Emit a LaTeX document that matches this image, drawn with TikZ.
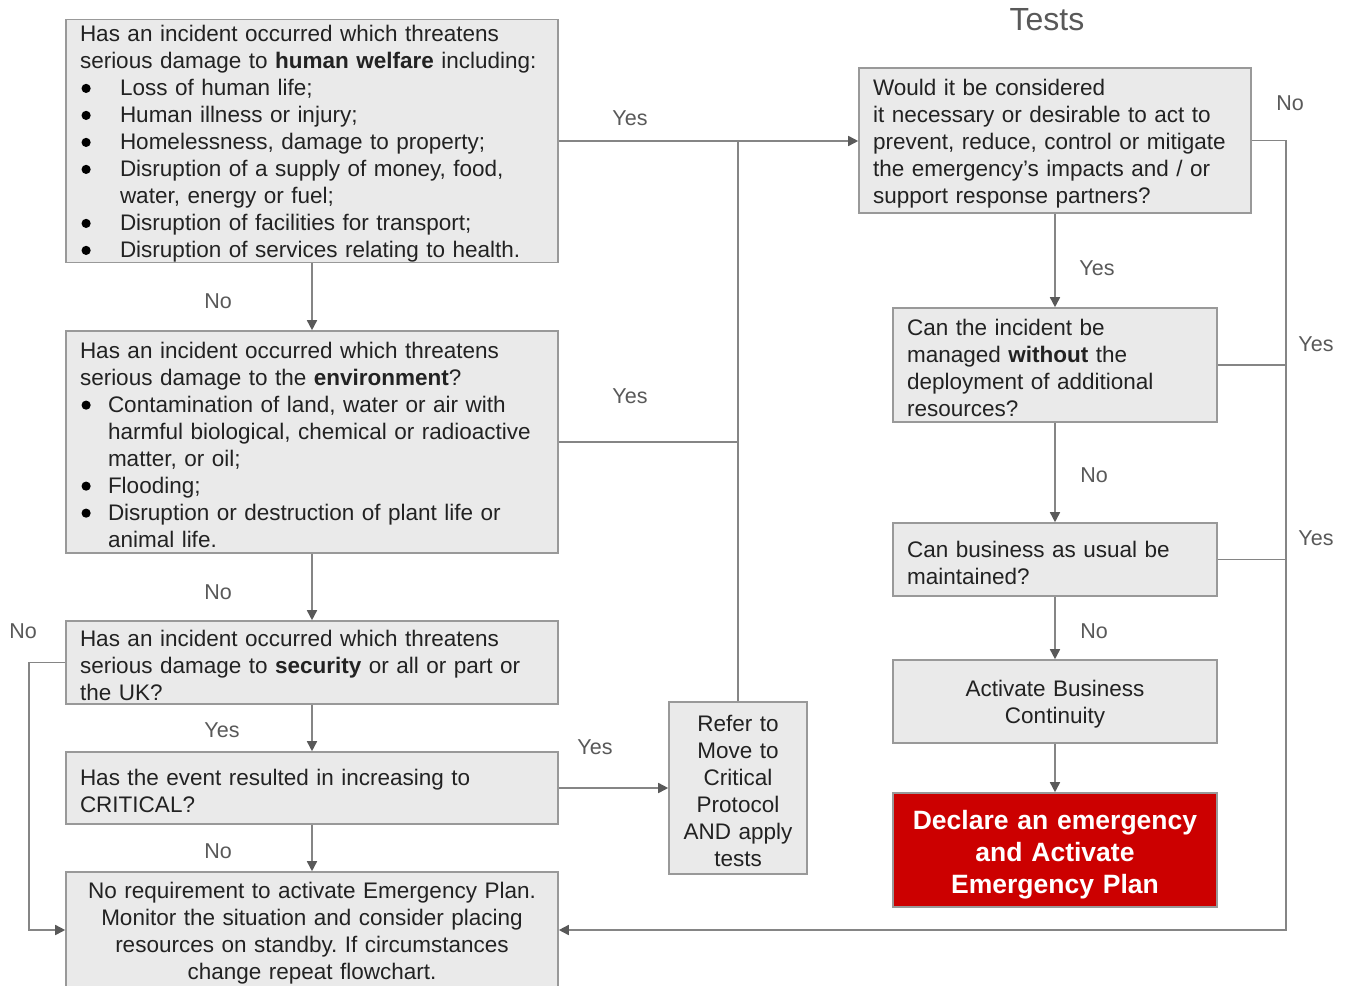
\documentclass[tikz,border=0pt]{standalone}
\usepackage{fontspec}
\setmainfont{Liberation Sans}
\usetikzlibrary{arrows.meta}
\definecolor{boxfill}{HTML}{EAEAEA}
\definecolor{boxline}{HTML}{999999}
\definecolor{wire}{HTML}{858585}
\definecolor{tipgray}{HTML}{595959}
\definecolor{txt}{HTML}{222222}
\definecolor{lbl}{HTML}{595959}
\definecolor{alarm}{HTML}{CC0000}
\frenchspacing
% list bullet: a round dot drawn in a box of the given width
\newcommand{\bul}[1]{\makebox[#1][l]{\hspace*{1.5pt}\tikz[x=1pt,y=1pt,baseline=0pt]\fill[black] (0,7.5) circle[radius=4.6pt];}}
\tikzset{
  qbox/.style={draw=boxline, fill=boxfill, line width=1.6pt, rectangle,
    inner ysep=0pt, text=txt, font=\fontsize{22.5}{27}\selectfont,
    execute at begin node={\rule{0pt}{22.5pt}}},
  leftbox/.style={qbox, align=left, inner xsep=14pt, text width=#1},
  midbox/.style={qbox, align=center, inner xsep=0pt, text width=#1},
  redbox/.style={draw=boxline, fill=alarm, line width=1.6pt, rectangle,
    inner sep=0pt, text=white, align=center, text width=#1,
    font=\fontsize{26.5}{32}\selectfont\bfseries,
    execute at begin node={\rule{0pt}{29.5pt}}},
  wireline/.style={draw=wire, line width=1.6pt},
  flow/.style={wireline, -{Triangle[length=10pt,width=10pt,color=tipgray]}},
  answer/.style={text=lbl, font=\fontsize{21.5}{26}\selectfont, inner sep=0pt},
}
\begin{document}
\begin{tikzpicture}[x=1pt, y=-1pt]
\clip (0,0) rectangle (1351,985);
\fill[white] (0,0) rectangle (1351,985);

% left column: screening questions
\node[leftbox=464pt, minimum height=242pt] (b1) at (312,141) {%
Has an incident occurred which threatens\\
serious damage to \textbf{human welfare} including:\\
\bul{40pt}Loss of human life;\\
\bul{40pt}Human illness or injury;\\
\bul{40pt}Homelessness, damage to property;\\
\bul{40pt}Disruption of a supply of money, food,\\
\hspace*{40pt}water, energy or fuel;\\
\bul{40pt}Disruption of facilities for transport;\\
\bul{40pt}Disruption of services relating to health.};

\node[leftbox=464pt, minimum height=222pt] (b2) at (312,442) {%
Has an incident occurred which threatens\\
serious damage to the \textbf{environment}?\\
\bul{28pt}Contamination of land, water or air with\\
\hspace*{28pt}harmful biological, chemical or radioactive\\
\hspace*{28pt}matter, or oil;\\
\bul{28pt}Flooding;\\
\bul{28pt}Disruption or destruction of plant life or\\
\hspace*{28pt}animal life.};

\node[leftbox=464pt, minimum height=83pt] (b3) at (312,662.5) {%
Has an incident occurred which threatens\\
serious damage to \textbf{security} or all or part or\\
the UK?};

\node[leftbox=464pt, minimum height=72pt] (b4) at (312,788) {%
Has the event resulted in increasing to\\
CRITICAL?};

\node[midbox=492pt, minimum height=116pt] (b5) at (312,930) {%
No requirement to activate Emergency Plan.\\
Monitor the situation and consider placing\\
resources on standby. If circumstances\\
change repeat flowchart.};

\node[midbox=138pt, minimum height=172pt] (refer) at (738,788) {%
Refer to\\ Move to\\ Critical\\ Protocol\\ AND apply\\ tests};

% right column: tests
\node[text=lbl, font=\fontsize{32}{38}\selectfont, inner sep=0pt] (title) at (1047,20) {Tests};

\node[leftbox=364pt, minimum height=145pt] (t1) at (1055,140.5) {%
Would it be considered\\
it necessary or desirable to act to\\
prevent, reduce, control or mitigate\\
the emergency’s impacts and / or\\
support response partners?};

\node[leftbox=296pt, minimum height=114pt] (t2) at (1055,365) {%
Can the incident be\\
managed \textbf{without} the\\
deployment of additional\\
resources?};

\node[leftbox=296pt, minimum height=73pt] (t3) at (1055,559.5) {%
Can business as usual be\\
maintained?};

\node[midbox=324pt, minimum height=83pt] (t4) at (1055,701.5) {%
Activate Business\\ Continuity};

\node[redbox=324pt, minimum height=114pt] (t5) at (1055,850) {%
Declare an emergency\\ and Activate\\ Emergency Plan};

% connectors
\coordinate (jn) at (refer.north |- b1.east);
\draw[flow] (b1.east) -- (b1.east -| t1.west);
\draw[wireline] (b2.east) -- (b2.east -| refer.north);
\draw[wireline] (refer.north) -- (jn);
\draw[flow] (b1.south) -- (b2.north);
\draw[flow] (b2.south) -- (b3.north);
\draw[flow] (b3.south) -- (b4.north);
\draw[flow] (b4.south) -- (b5.north);
\draw[flow] (b4.east) -- (refer.west);
\coordinate (lx) at ([xshift=-36pt]b3.west);
\draw[flow] (b3.west) -- (lx) |- (b5.west);

\draw[flow] (t1.south) -- (t2.north);
\draw[flow] (t2.south) -- (t3.north);
\draw[flow] (t3.south) -- (t4.north);
\draw[flow] (t4.south) -- (t5.north);
\coordinate (rx) at ([xshift=34pt]t1.east);
\draw[flow] (t1.east) -- (rx) |- (b5.east);
\draw[wireline] (t2.east) -- (t2.east -| rx);
\draw[wireline] (t3.east) -- (t3.east -| rx);

% answers on the connectors
\node[answer] (a1) at (630,118) {Yes};
\node[answer] (a2) at (218,301) {No};
\node[answer] (a3) at (630,396) {Yes};
\node[answer] (a4) at (218,592) {No};
\node[answer] (a5) at (23,631) {No};
\node[answer] (a6) at (222,730) {Yes};
\node[answer] (a7) at (595,747) {Yes};
\node[answer] (a8) at (218,851) {No};
\node[answer] (a9) at (1290,103) {No};
\node[answer] (a10) at (1097,268) {Yes};
\node[answer] (a11) at (1316,344) {Yes};
\node[answer] (a12) at (1094,475) {No};
\node[answer] (a13) at (1316,538) {Yes};
\node[answer] (a14) at (1094,631) {No};
\end{tikzpicture}
\end{document}
